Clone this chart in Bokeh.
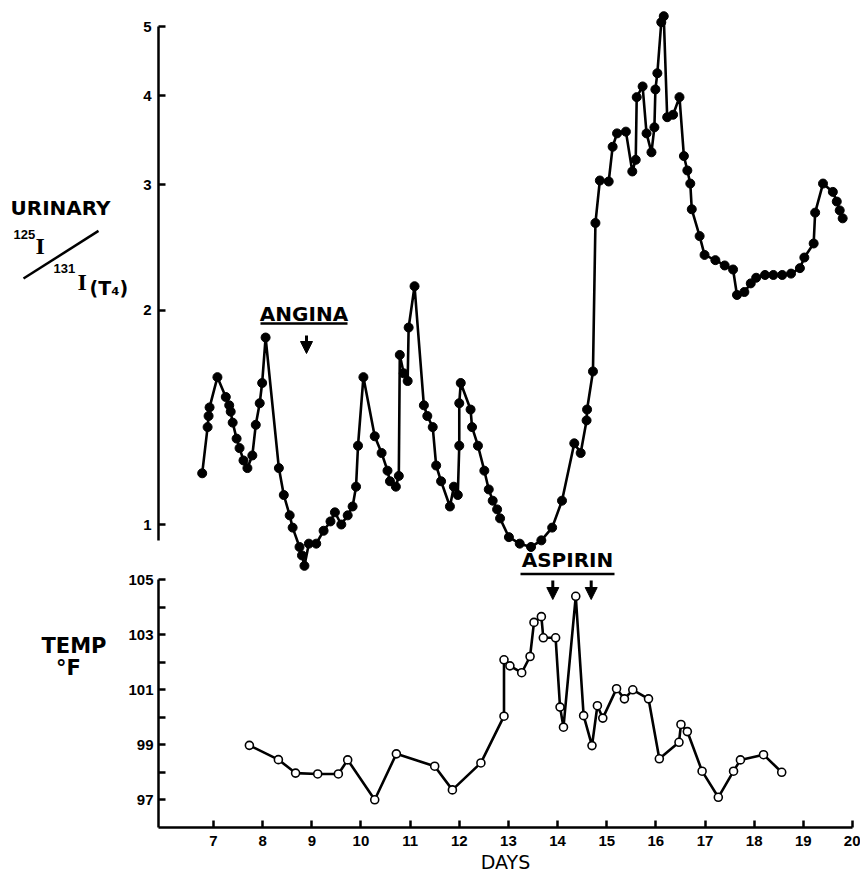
import math
from bokeh.plotting import figure
from bokeh.layouts import column, row
from bokeh.models import Range1d, FixedTicker, Arrow, NormalHead
from bokeh.core.properties import value
from bokeh.embed import file_html
from bokeh.resources import INLINE

# ---------------- data ----------------
uri_days = [6.77, 6.88, 6.90, 6.92, 7.08, 7.25, 7.32, 7.35, 7.39, 7.47,
            7.53, 7.61, 7.69, 7.79, 7.86, 7.94, 7.99, 8.06, 8.33, 8.43,
            8.55, 8.61, 8.75, 8.80, 8.85, 8.94, 9.09, 9.24, 9.38, 9.47,
            9.60, 9.73, 9.83, 9.90, 9.94, 10.05, 10.28, 10.42, 10.54, 10.59,
            10.71, 10.77, 10.79, 10.87, 10.95, 10.97, 11.09, 11.28, 11.35, 11.46,
            11.53, 11.63, 11.81, 11.89, 11.97, 12.00, 12.00, 12.03, 12.23, 12.26,
            12.38, 12.51, 12.60, 12.68, 12.77, 12.83, 13.01, 13.23, 13.46, 13.67,
            13.89, 14.09, 14.34, 14.47, 14.59, 14.60, 14.72, 14.77, 14.86, 15.04,
            15.12, 15.21, 15.39, 15.52, 15.59, 15.61, 15.73, 15.81, 15.91, 15.97,
            15.99, 16.03, 16.11, 16.16, 16.23, 16.35, 16.48, 16.57, 16.64, 16.70,
            16.73, 16.89, 16.99, 17.21, 17.40, 17.57, 17.65, 17.80, 17.93, 18.04,
            18.22, 18.39, 18.57, 18.75, 18.93, 19.02, 19.21, 19.24, 19.40, 19.60,
            19.68, 19.74, 19.80]
uri_ratio = [1.18, 1.37, 1.42, 1.46, 1.61, 1.51, 1.47, 1.44, 1.39, 1.32,
             1.28, 1.23, 1.20, 1.25, 1.38, 1.48, 1.58, 1.83, 1.20, 1.10,
             1.03, 0.99, 0.93, 0.905, 0.875, 0.94, 0.94, 0.98, 1.01, 1.04,
             1.00, 1.03, 1.06, 1.13, 1.29, 1.61, 1.33, 1.26, 1.19, 1.15,
             1.13, 1.17, 1.73, 1.63, 1.59, 1.89, 2.16, 1.47, 1.42, 1.37,
             1.21, 1.15, 1.06, 1.13, 1.10, 1.29, 1.48, 1.58, 1.45, 1.37,
             1.29, 1.19, 1.12, 1.08, 1.05, 1.02, 0.96, 0.94, 0.93, 0.95,
             0.99, 1.08, 1.30, 1.26, 1.40, 1.45, 1.64, 2.65, 3.04, 3.03,
             3.39, 3.54, 3.56, 3.13, 3.25, 3.98, 4.12, 3.54, 3.33, 3.61,
             4.08, 4.30, 5.07, 5.17, 3.73, 3.76, 3.98, 3.29, 3.14, 3.01,
             2.77, 2.54, 2.39, 2.35, 2.31, 2.28, 2.10, 2.12, 2.18, 2.22,
             2.24, 2.24, 2.24, 2.25, 2.29, 2.37, 2.48, 2.74, 3.01, 2.93,
             2.84, 2.76, 2.69]

temp_days = [7.73, 8.32, 8.67, 9.12, 9.54, 9.73, 10.28, 10.72, 11.50, 11.86,
             12.44, 12.91, 12.91, 13.03, 13.27, 13.44, 13.52, 13.67, 13.71, 13.96,
             14.05, 14.12, 14.37, 14.53, 14.70, 14.81, 14.92, 15.20, 15.36, 15.53,
             15.85, 16.07, 16.47, 16.51, 16.64, 16.94, 17.27, 17.58, 17.72, 18.19,
             18.56]
temp_f = [98.97, 98.45, 97.96, 97.93, 97.93, 98.44, 96.99, 98.66, 98.21, 97.35,
          98.33, 100.03, 102.08, 101.86, 101.61, 102.20, 103.44, 103.65, 102.88, 102.88,
          100.36, 99.63, 104.39, 100.05, 98.96, 100.41, 99.96, 101.03, 100.66, 100.99,
          100.66, 98.48, 99.08, 99.73, 99.47, 98.03, 97.08, 98.03, 98.44, 98.63,
          97.99]

day_ticks = list(range(7, 21))
uri_ticks = [1, 2, 3, 4, 5]
temp_ticks = list(range(97, 106))
temp_tick_labels = {t: (str(t) if t % 2 == 1 else "") for t in temp_ticks}

# ---------------- layout constants (page pixels) ----------------
FRAME_L, FRAME_R = 158, 852
X0, X1 = 5.881, 20.0
PX_PER_DAY = (FRAME_R - FRAME_L) / (X1 - X0)
SPLIT = 571                  # boundary between the two panels
U_FT, U_FB = 4, SPLIT        # upper frame top / bottom
L_FT, L_FB = SPLIT, 827      # lower frame top / bottom
BOTTOM_BORDER = 50
RIGHT_BORDER = 8
SIDE1_W, SIDE2_W = 134, 110

def dx(px):   # page x -> day (annotation placement)
    return X0 + (px - FRAME_L) / PX_PER_DAY

def uy(py):   # page y -> urinary ratio (log panel)
    return math.exp((524 - py) / 309.4)

def ty(py):   # page y -> temperature
    return 105 - (py - 579) / 27.5

U_TOP, U_BOT = uy(U_FT), uy(U_FB)
T_TOP, T_BOT = ty(L_FT), ty(L_FB)

TICK_FONT = "Liberation Sans"
LAB_FONT = "DejaVu Sans"

def style_axis(ax):
    ax.axis_line_width = 2.5
    ax.axis_line_color = "black"
    ax.major_tick_line_width = 2.5
    ax.major_tick_line_color = "black"
    ax.major_tick_in = 7
    ax.major_tick_out = 0
    ax.minor_tick_line_color = None
    ax.major_label_text_font = TICK_FONT
    ax.major_label_text_font_size = "15px"
    ax.major_label_text_font_style = "bold"
    ax.major_label_text_color = "black"

def bare(fig):
    fig.outline_line_color = None
    fig.xgrid.visible = False
    fig.ygrid.visible = False

def put_text(fig, x, y, txt, size, font=LAB_FONT, style="bold", align="left"):
    fig.text(x=[x], y=[y], text=[txt], text_font=value(font),
             text_font_size=value(size), text_font_style=style,
             text_align=align, text_baseline="middle", text_color="black")

# ---------------- upper panel ----------------
up = figure(width=(FRAME_L - SIDE1_W) + (FRAME_R - FRAME_L) + RIGHT_BORDER,
            height=U_FB,
            x_range=Range1d(X0, X1), y_range=Range1d(U_BOT, U_TOP),
            y_axis_type="log", x_axis_location=None,
            output_backend="svg", toolbar_location=None,
            min_border_left=FRAME_L - SIDE1_W, min_border_right=RIGHT_BORDER,
            min_border_top=U_FT, min_border_bottom=0)
bare(up)
ya = up.yaxis[0]
style_axis(ya)
ya.ticker = FixedTicker(ticks=uri_ticks, minor_ticks=[])
ya.major_label_overrides = {t: str(t) for t in uri_ticks}
ya.bounds = (0.95, 5)
ya.major_label_standoff = 7

up.line(uri_days, uri_ratio, line_color="black", line_width=2.6)
up.scatter(uri_days, uri_ratio, marker="circle", size=9,
           fill_color="black", line_color="black")

# ANGINA annotation
put_text(up, dx(303.5), uy(313), "ANGINA", "20px", align="center")
up.add_layout(Arrow(end=None, x_start=dx(260), y_start=uy(323), x_end=dx(347),
                    y_end=uy(323), line_width=2.5, line_color="black"))
up.add_layout(Arrow(end=NormalHead(size=12, fill_color="black", line_color="black"),
                    x_start=dx(306), y_start=uy(335), x_end=dx(306), y_end=uy(353),
                    line_width=3, line_color="black"))
# ASPIRIN text (its underline and arrows are in the lower panel)
put_text(up, dx(567), uy(559.5), "ASPIRIN", "20px", align="center")

# ---------------- lower panel ----------------
lo = figure(width=(FRAME_L - SIDE2_W) + (FRAME_R - FRAME_L) + RIGHT_BORDER,
            height=(L_FB - L_FT) + BOTTOM_BORDER,
            x_range=up.x_range, y_range=Range1d(T_BOT, T_TOP),
            output_backend="svg", toolbar_location=None,
            min_border_left=FRAME_L - SIDE2_W, min_border_right=RIGHT_BORDER,
            min_border_top=0, min_border_bottom=BOTTOM_BORDER)
bare(lo)
xa = lo.xaxis[0]
style_axis(xa)
xa.ticker = FixedTicker(ticks=day_ticks, minor_ticks=[])
xa.major_label_standoff = 8
xa.axis_label = "DAYS"
xa.axis_label_text_font = LAB_FONT
xa.axis_label_text_font_size = "19px"
xa.axis_label_text_font_style = "normal"
xa.axis_label_standoff = 2
xa.axis_label_text_color = "black"
tya = lo.yaxis[0]
style_axis(tya)
tya.ticker = FixedTicker(ticks=temp_ticks, minor_ticks=[])
tya.major_label_overrides = temp_tick_labels
tya.bounds = (T_BOT, 105)
tya.major_label_standoff = 5

lo.line(temp_days, temp_f, line_color="black", line_width=2.6)
lo.scatter(temp_days, temp_f, marker="circle", size=8,
           fill_color="white", line_color="black", line_width=1.6)

lo.add_layout(Arrow(end=None, x_start=dx(520), y_start=ty(573.5), x_end=dx(614),
                    y_end=ty(573.5), line_width=2.5, line_color="black"))
for ax_px in (552.3, 590.7):
    lo.add_layout(Arrow(end=NormalHead(size=12, fill_color="black", line_color="black"),
                        x_start=dx(ax_px), y_start=ty(580), x_end=dx(ax_px), y_end=ty(599),
                        line_width=3, line_color="black"))

# ---------------- left-hand label panels (page-pixel coordinates) ----------------
side1 = figure(width=SIDE1_W, height=U_FB, x_range=Range1d(0, SIDE1_W),
               y_range=Range1d(U_FB, 0), output_backend="svg", toolbar_location=None,
               x_axis_location=None, y_axis_location=None,
               min_border_left=0, min_border_right=0, min_border_top=0, min_border_bottom=0)
bare(side1)
put_text(side1, 10, 204.5, "URINARY", "20px")
put_text(side1, 13, 232, "125", "13px", font=TICK_FONT)
put_text(side1, 35, 243, "I", "24px", font="Liberation Serif")
side1.line([23, 98], [276, 228], line_color="black", line_width=2.5)
put_text(side1, 53, 266, "131", "13px", font=TICK_FONT)
put_text(side1, 77, 279, "I", "24px", font="Liberation Serif")
put_text(side1, 89, 286, "(T\u2084)", "19px")

side2 = figure(width=SIDE2_W, height=(L_FB - L_FT) + BOTTOM_BORDER,
               x_range=Range1d(0, SIDE2_W), y_range=Range1d(L_FB + BOTTOM_BORDER, L_FT),
               output_backend="svg", toolbar_location=None,
               x_axis_location=None, y_axis_location=None,
               min_border_left=0, min_border_right=0, min_border_top=0, min_border_bottom=0)
bare(side2)
put_text(side2, 73.5, 659.5, "TEMP", "21px", align="center")
put_text(side2, 68, 686.5, "\u00b0F", "21px", align="center")

layout = column(row(side1, up, spacing=0), row(side2, lo, spacing=0), spacing=0)
open("out.html", "w").write(file_html(layout, INLINE))
